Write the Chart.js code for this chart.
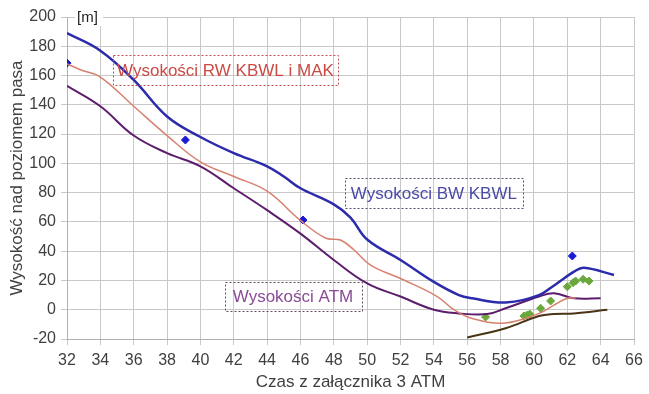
<!DOCTYPE html>
<html>
<head>
<meta charset="utf-8">
<script src="https://cdn.jsdelivr.net/npm/chart.js@4.4.1/dist/chart.umd.min.js"></script>
<style>
  body { margin: 0; background: #fff; }
  #wrap { width: 649px; height: 394px; }
</style>
</head>
<body>
<div id="wrap"><canvas id="chart" width="649" height="394"></canvas></div>
<script>
// Wysokości BW KBWL (niebieska)
const bwTime = [32, 34, 36, 38, 40, 42, 44, 45, 46, 48, 49, 50, 52, 54, 55.5, 56.3, 58.3, 60.3, 61.1, 62.4, 63, 64.8];
const bwAlt  = [189, 177, 157, 132, 118, 107, 98, 91, 83, 72, 63, 48, 34, 19, 10, 7.8, 5, 10, 15.7, 26, 28.7, 23.7];

// Wysokości RW KBWL i MAK (pomarańczowa)
const rwTime = [32, 32.8, 34, 36, 38, 40, 42, 44, 46, 47.5, 48.4, 49.2, 50.2, 52.2, 54.2, 55.2, 56.3, 58.3, 60.3, 61.2, 62, 62.5];
const rwAlt  = [168, 164, 159, 139, 119, 101, 91, 81, 61, 49, 47.6, 41, 30.5, 20.3, 9, 0, -6, -9, -2.5, 3.2, 7.8, 8];

// Wysokości ATM (fioletowa)
const atmTime = [32, 34, 36, 38, 40, 42, 44, 46, 48, 50, 52, 54, 55.5, 57.2, 58.3, 60.3, 61.2, 62.4, 64];
const atmAlt  = [153, 139, 119, 107, 98, 83, 68, 52, 34, 18, 9, 0, -2.5, -3, 1, 9, 11.2, 7.8, 7.8];

// linia brązowa
const brownTime = [56, 58.3, 60.3, 61.2, 62.4, 64.4];
const brownAlt  = [-19, -12.7, -4.3, -2.9, -2.5, 0];

// punkty niebieskie
const blueDotTime = [32, 39.1, 46.15, 62.3];
const blueDotAlt  = [168.5, 116, 61.3, 36.7];

// punkty zielone
const greenDotTime = [57.1, 59.4, 59.6, 59.75, 60.4, 61.0, 62.0, 62.35, 62.5, 62.95, 63.3];
const greenDotAlt  = [-5, -4.3, -3.6, -3, 1, 6, 15.7, 18.5, 19.6, 20.8, 19.6];

// opisy w ramkach: [tekst, t1, v1, t2, v2, kolor tekstu, kolor ramki]
const labels = [
  ['Wysokości RW KBWL i MAK', 34.75, 174, 48.25, 153.5, '#cc4a44', '#c05050'],
  ['Wysokości BW KBWL', 48.66, 90, 59.34, 69.5, '#4a4aa8', '#505070'],
  ['Wysokości ATM', 41.45, 19, 49.65, -1, '#8a4a96', '#604a60']
];

function pts(t, v) {
  return t.map((x, i) => ({ x: x, y: v[i] }));
}

const boxPlugin = {
  id: 'boxes',
  afterDatasetsDraw(chart) {
    const ctx = chart.ctx;
    const xs = chart.scales.x, ys = chart.scales.y;
    ctx.save();
    labels.forEach(l => {
      const x1 = xs.getPixelForValue(l[1]), y1 = ys.getPixelForValue(l[2]);
      const x2 = xs.getPixelForValue(l[3]), y2 = ys.getPixelForValue(l[4]);
      ctx.setLineDash([2, 2]);
      ctx.lineWidth = 1;
      ctx.strokeStyle = l[6];
      ctx.strokeRect(Math.round(x1) + 0.5, Math.round(y1) + 0.5, Math.round(x2 - x1), Math.round(y2 - y1));
      ctx.setLineDash([]);
      ctx.fillStyle = l[5];
      ctx.font = '17px "Liberation Sans", Arial, sans-serif';
      ctx.textAlign = 'center';
      ctx.textBaseline = 'middle';
      ctx.fillText(l[0], (x1 + x2) / 2, (y1 + y2) / 2 + 1);
    });
    // jednostka osi
    const a = chart.chartArea;
    ctx.fillStyle = '#fff';
    ctx.fillRect(a.left + 8, a.top - 9, 28, 18);
    ctx.fillStyle = '#222';
    ctx.font = '15px "Liberation Sans", Arial, sans-serif';
    ctx.textAlign = 'left';
    ctx.textBaseline = 'middle';
    ctx.fillText('[m]', a.left + 10, a.top + 1);
    ctx.restore();
  }
};

const tickFont = { family: '"Liberation Sans", Arial, sans-serif', size: 16 };
const titleFont = { family: '"Liberation Sans", Arial, sans-serif', size: 17 };

new Chart(document.getElementById('chart'), {
  type: 'line',
  data: {
    datasets: [
      {
        label: 'BW KBWL',
        data: pts(bwTime, bwAlt),
        borderColor: '#2b2bac',
        borderWidth: 2.5,
        pointRadius: 0,
        tension: 0.4
      },
      {
        label: 'RW KBWL i MAK',
        data: pts(rwTime, rwAlt),
        borderColor: '#d8806e',
        borderWidth: 1.5,
        pointRadius: 0,
        tension: 0.4
      },
      {
        label: 'ATM',
        data: pts(atmTime, atmAlt),
        borderColor: '#5c1e6c',
        borderWidth: 2,
        pointRadius: 0,
        tension: 0.4
      },
      {
        label: 'brąz',
        data: pts(brownTime, brownAlt),
        borderColor: '#4a3414',
        borderWidth: 2,
        pointRadius: 0,
        tension: 0.4
      },
      {
        label: 'punkty BW',
        data: pts(blueDotTime, blueDotAlt),
        showLine: false,
        pointStyle: 'rectRot',
        pointRadius: 4,
        backgroundColor: '#1a1ad0',
        borderColor: '#1a1ad0'
      },
      {
        label: 'punkty zielone',
        data: pts(greenDotTime, greenDotAlt),
        showLine: false,
        pointStyle: 'rectRot',
        pointRadius: 4,
        backgroundColor: '#6aa83c',
        borderColor: '#6aa83c'
      }
    ]
  },
  options: {
    responsive: false,
    animation: false,
    layout: { padding: { top: 17, right: 15, left: 0, bottom: 0 } },
    plugins: {
      legend: { display: false },
      tooltip: { enabled: false }
    },
    scales: {
      x: {
        type: 'linear',
        min: 32,
        max: 66,
        afterFit(s) { s.height = 55; },
        ticks: { stepSize: 2, color: '#404040', font: tickFont, padding: 6, maxRotation: 0 },
        grid: { color: '#c8c8c8', tickLength: 6 },
        border: { color: '#b0b0b0' },
        title: {
          display: true,
          text: 'Czas z załącznika 3 ATM',
          color: '#404040',
          font: titleFont,
          padding: { top: 0, bottom: 1 }
        }
      },
      y: {
        min: -20,
        max: 200,
        afterFit(s) { s.width = 67; },
        ticks: { stepSize: 20, color: '#404040', font: tickFont, padding: 5 },
        grid: { color: '#c8c8c8', tickLength: 6 },
        border: { color: '#b0b0b0' },
        title: {
          display: true,
          text: 'Wysokość nad poziomem pasa',
          color: '#404040',
          font: titleFont,
          padding: { top: 7, bottom: 0 }
        }
      }
    }
  },
  plugins: [boxPlugin]
});
</script>
</body>
</html>
